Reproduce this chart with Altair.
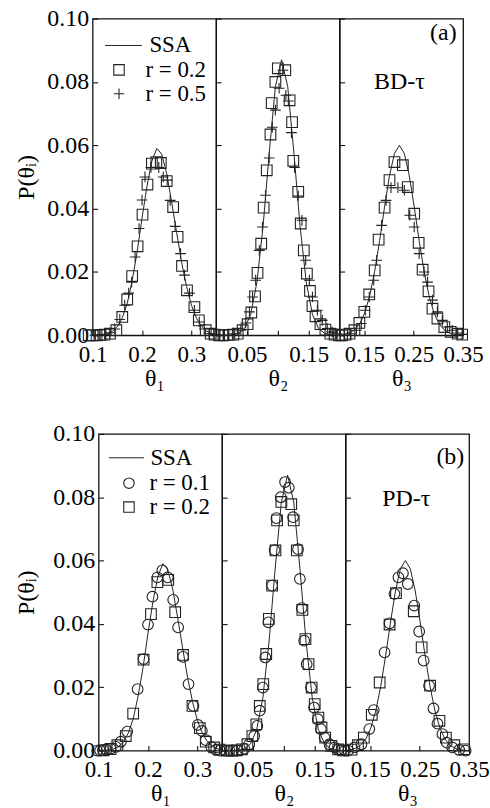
import json
import altair as alt
import pandas as pd

FONT = "Liberation Serif"
PLUS_PATH = "M-1,0L1,0M0,-1L0,1"

# ---------------- SSA curves (same in both figures) ----------------
SSA1_X = [0.10, 0.11, 0.12, 0.13, 0.14, 0.15, 0.16, 0.17, 0.18, 0.19, 0.20, 0.21, 0.22,
          0.23, 0.24, 0.25, 0.26, 0.27, 0.28, 0.29, 0.30, 0.31, 0.32, 0.33, 0.34, 0.35]
SSA1_Y = [0.0000, 0.0001, 0.0002, 0.0005, 0.0012, 0.0027, 0.0055, 0.0100, 0.0172, 0.0262,
          0.0370, 0.0470, 0.0550, 0.0590, 0.0572, 0.0510, 0.0420, 0.0325, 0.0232, 0.0155,
          0.0095, 0.0055, 0.0029, 0.0014, 0.0006, 0.0002]
SSA2_X = [0.000, 0.006, 0.016, 0.026, 0.036, 0.046, 0.056, 0.066, 0.076, 0.086, 0.096,
          0.106, 0.116, 0.126, 0.136, 0.146, 0.156, 0.166, 0.176, 0.186, 0.196, 0.200]
SSA2_Y = [0.0000, 0.0000, 0.0000, 0.0001, 0.0006, 0.0021, 0.0066, 0.0167, 0.0343, 0.0576,
          0.0785, 0.0870, 0.0785, 0.0576, 0.0343, 0.0167, 0.0066, 0.0021, 0.0006, 0.0001,
          0.0000, 0.0000]
SSA3_X = [0.100, 0.111, 0.121, 0.131, 0.141, 0.151, 0.161, 0.171, 0.181, 0.191, 0.201,
          0.211, 0.221, 0.231, 0.241, 0.251, 0.261, 0.271, 0.281, 0.291, 0.301, 0.311,
          0.321, 0.331, 0.341, 0.350]
SSA3_Y = [0.0000, 0.0003, 0.0008, 0.0018, 0.0037, 0.0071, 0.0125, 0.0202, 0.0299, 0.0406,
          0.0504, 0.0574, 0.0600, 0.0574, 0.0504, 0.0406, 0.0299, 0.0202, 0.0125, 0.0071,
          0.0037, 0.0018, 0.0008, 0.0003, 0.0001, 0.0000]

# ---------------- (a) BD-tau : squares r = 0.2, pluses r = 0.5 ----------------
SQ_A1_X = [0.092, 0.100, 0.108, 0.116, 0.124, 0.135, 0.148, 0.160, 0.170, 0.180, 0.191, 0.201,
           0.211, 0.220, 0.229, 0.238, 0.250, 0.263, 0.272, 0.281, 0.291, 0.306, 0.315, 0.329,
           0.339, 0.347]
SQ_A1_Y = [0.0000, 0.0000, 0.0000, 0.0001, 0.0002, 0.0005, 0.0016, 0.0058, 0.0113, 0.0187,
           0.0281, 0.0381, 0.0476, 0.0542, 0.0547, 0.0544, 0.0487, 0.0405, 0.0311, 0.0219,
           0.0142, 0.0089, 0.0047, 0.0016, 0.0005, 0.0002]
PL_A1_X = [0.105, 0.115, 0.125, 0.135, 0.145, 0.155, 0.165, 0.173, 0.179, 0.186, 0.194, 0.200,
           0.206, 0.218, 0.234, 0.243, 0.251, 0.257, 0.267, 0.278, 0.286, 0.296, 0.306, 0.316,
           0.326, 0.336, 0.346]
PL_A1_Y = [0.0000, 0.0000, 0.0003, 0.0008, 0.0020, 0.0050, 0.0095, 0.0133, 0.0168, 0.0247,
           0.0337, 0.0427, 0.0500, 0.0530, 0.0530, 0.0500, 0.0490, 0.0426, 0.0344, 0.0258,
           0.0190, 0.0133, 0.0079, 0.0042, 0.0020, 0.0005, 0.0002]
SQ_A2_X = [0.005, 0.012, 0.020, 0.028, 0.035, 0.043, 0.051, 0.057, 0.063, 0.067, 0.073, 0.077,
           0.082, 0.088, 0.090, 0.096, 0.100, 0.112, 0.119, 0.123, 0.125, 0.133, 0.137, 0.142,
           0.147, 0.152, 0.156, 0.161, 0.169, 0.177, 0.185, 0.192, 0.199]
SQ_A2_Y = [0.0000, 0.0000, 0.0001, 0.0002, 0.0005, 0.0016, 0.0035, 0.0072, 0.0123, 0.0197,
           0.0289, 0.0403, 0.0521, 0.0634, 0.0733, 0.0800, 0.0843, 0.0837, 0.0742, 0.0673,
           0.0551, 0.0453, 0.0353, 0.0268, 0.0195, 0.0140, 0.0092, 0.0060, 0.0035, 0.0018,
           0.0005, 0.0002, 0.0000]
PL_A2_X = [0.005, 0.012, 0.019, 0.030, 0.040, 0.048, 0.054, 0.059, 0.064, 0.070, 0.075, 0.080,
           0.086, 0.091, 0.096, 0.102, 0.108, 0.113, 0.117, 0.122, 0.127, 0.133, 0.139, 0.145,
           0.151, 0.156, 0.164, 0.172, 0.180, 0.188, 0.196]
PL_A2_Y = [0.0000, 0.0000, 0.0000, 0.0005, 0.0016, 0.0039, 0.0074, 0.0121, 0.0174, 0.0268,
           0.0342, 0.0442, 0.0560, 0.0657, 0.0711, 0.0780, 0.0837, 0.0758, 0.0740, 0.0640,
           0.0530, 0.0440, 0.0363, 0.0237, 0.0174, 0.0121, 0.0079, 0.0047, 0.0021, 0.0010,
           0.0005]
SQ_A3_X = [0.105, 0.112, 0.120, 0.130, 0.140, 0.150, 0.160, 0.171, 0.179, 0.191, 0.201, 0.211,
           0.228, 0.238, 0.251, 0.260, 0.268, 0.280, 0.288, 0.298, 0.312, 0.325, 0.339, 0.348]
SQ_A3_Y = [0.0000, 0.0002, 0.0005, 0.0016, 0.0039, 0.0074, 0.0129, 0.0205, 0.0302, 0.0403,
           0.0490, 0.0547, 0.0537, 0.0468, 0.0384, 0.0292, 0.0207, 0.0139, 0.0084, 0.0053,
           0.0026, 0.0011, 0.0005, 0.0002]
PL_A3_X = [0.110, 0.122, 0.134, 0.144, 0.152, 0.160, 0.169, 0.175, 0.185, 0.194, 0.204, 0.218,
           0.231, 0.242, 0.251, 0.261, 0.271, 0.278, 0.288, 0.298, 0.308, 0.318, 0.328, 0.339,
           0.348]
PL_A3_Y = [0.0000, 0.0005, 0.0016, 0.0037, 0.0079, 0.0121, 0.0174, 0.0237, 0.0347, 0.0426,
           0.0466, 0.0466, 0.0458, 0.0379, 0.0342, 0.0258, 0.0200, 0.0168, 0.0111, 0.0074,
           0.0047, 0.0026, 0.0016, 0.0007, 0.0003]

# ---------------- (b) PD-tau : circles r = 0.1, squares r = 0.2 ----------------
CI_B1_X = [0.097, 0.103, 0.109, 0.116, 0.124, 0.135, 0.145, 0.158, 0.179, 0.191, 0.200, 0.209,
           0.219, 0.229, 0.240, 0.251, 0.261, 0.271, 0.282, 0.292, 0.301, 0.309, 0.317, 0.328,
           0.338, 0.346]
CI_B1_Y = [0.0000, 0.0000, 0.0002, 0.0003, 0.0006, 0.0012, 0.0028, 0.0060, 0.0194, 0.0289,
           0.0398, 0.0486, 0.0547, 0.0569, 0.0547, 0.0476, 0.0389, 0.0296, 0.0210, 0.0141,
           0.0081, 0.0062, 0.0033, 0.0012, 0.0002, 0.0000]
SQ_B1_X = [0.110, 0.124, 0.138, 0.155, 0.170, 0.191, 0.206, 0.219, 0.241, 0.255, 0.271, 0.290,
           0.305, 0.317, 0.334, 0.345]
SQ_B1_Y = [0.0001, 0.0005, 0.0017, 0.0046, 0.0117, 0.0287, 0.0431, 0.0532, 0.0539, 0.0437,
           0.0302, 0.0141, 0.0071, 0.0028, 0.0010, 0.0003]
CI_B2_X = [0.005, 0.012, 0.018, 0.025, 0.036, 0.044, 0.052, 0.057, 0.061, 0.066, 0.070, 0.075,
           0.081, 0.085, 0.088, 0.095, 0.102, 0.108, 0.115, 0.123, 0.126, 0.129, 0.133, 0.137,
           0.144, 0.149, 0.155, 0.160, 0.166, 0.174, 0.182, 0.188, 0.193, 0.199]
CI_B2_Y = [0.0000, 0.0000, 0.0000, 0.0000, 0.0006, 0.0020, 0.0046, 0.0078, 0.0126, 0.0199,
           0.0294, 0.0405, 0.0521, 0.0633, 0.0734, 0.0800, 0.0848, 0.0830, 0.0737, 0.0636,
           0.0542, 0.0450, 0.0347, 0.0273, 0.0199, 0.0136, 0.0099, 0.0068, 0.0041, 0.0020,
           0.0010, 0.0004, 0.0001, 0.0000]
SQ_B2_X = [0.008, 0.016, 0.024, 0.032, 0.041, 0.049, 0.0555, 0.061, 0.0667, 0.0715, 0.0757,
           0.081, 0.0864, 0.089, 0.096, 0.112, 0.116, 0.121, 0.130, 0.135, 0.140, 0.145, 0.150,
           0.156, 0.161, 0.167, 0.177, 0.188, 0.196]
SQ_B2_Y = [0.0000, 0.0000, 0.0001, 0.0004, 0.0020, 0.0046, 0.0083, 0.0141, 0.0210, 0.0305,
           0.0416, 0.0521, 0.0632, 0.0727, 0.0785, 0.0778, 0.0727, 0.0632, 0.0444, 0.0352,
           0.0273, 0.0199, 0.0147, 0.0104, 0.0073, 0.0041, 0.0015, 0.0004, 0.0001]
CI_B3_X = [0.105, 0.118, 0.132, 0.148, 0.157, 0.179, 0.189, 0.199, 0.207, 0.216, 0.226, 0.239,
           0.249, 0.258, 0.269, 0.278, 0.286, 0.296, 0.305, 0.316, 0.330, 0.343]
CI_B3_Y = [0.0000, 0.0010, 0.0020, 0.0068, 0.0128, 0.0310, 0.0402, 0.0495, 0.0547, 0.0560,
           0.0526, 0.0458, 0.0376, 0.0284, 0.0205, 0.0133, 0.0085, 0.0052, 0.0025, 0.0010,
           0.0002, 0.0000]
SQ_B3_X = [0.112, 0.125, 0.137, 0.153, 0.169, 0.189, 0.202, 0.238, 0.254, 0.271, 0.290, 0.303,
           0.320, 0.340]
SQ_B3_Y = [0.0003, 0.0017, 0.0041, 0.0113, 0.0215, 0.0398, 0.0497, 0.0440, 0.0326, 0.0205,
           0.0094, 0.0041, 0.0017, 0.0004]

# ---------------- axes / labels ----------------
Y_TICKS = [0.0, 0.02, 0.04, 0.06, 0.08, 0.10]
X_DOMAINS = [[0.10, 0.35], [0.0, 0.20], [0.10, 0.35]]
X_TICKS = [[0.10, 0.15, 0.20, 0.25, 0.30, 0.35],
           [0.05, 0.10, 0.15],
           [0.15, 0.20, 0.25, 0.30, 0.35]]
X_LABELS = [[0.1, 0.2, 0.3], [0.05, 0.15], [0.15, 0.25, 0.35]]
X_FORMATS = [".1f", ".2f", ".2f"]
X_TITLES = ["θ₁", "θ₂", "θ₃"]
Y_TITLE = "P(θᵢ)"

LEG_A = ["r = 0.2", "r = 0.5"]
LEG_B = ["r = 0.1", "r = 0.2"]
TAG_A = ["(a)", "BD-τ"]
TAG_B = ["(b)", "PD-τ"]
TAG_A_X = [0.310, 0.221]
TAG_A_Y = [0.0955, 0.0800]
TAG_B_X = [0.312, 0.223]
TAG_B_Y = [0.0927, 0.0794]

W = 124
H = 318
TICK = {"expr": "-5"}
YLABEL_FS = 24
XLABEL_FS = 23
TEXT_FS = 24
LEGEND_FS = 23


def xaxis(k):
    lab = json.dumps(X_LABELS[k])
    expr = f"indexof({lab}, datum.value) >= 0 ? format(datum.value, '{X_FORMATS[k]}') : ''"
    return alt.Axis(values=X_TICKS[k], labelExpr=expr, title=X_TITLES[k], tickSize=TICK,
                    labelPadding=13, labelFlush=False, labelOverlap=False, labelBound=False,
                    labelFontSize=XLABEL_FS, domain=False, grid=False, titlePadding=0)


def yaxis(first, tpad):
    if first:
        return alt.Axis(values=Y_TICKS, format=".2f", title=Y_TITLE, tickSize=TICK,
                        labelPadding=9, titlePadding=tpad, domain=False, grid=False,
                        labelFontSize=YLABEL_FS, labelFlush=False, labelOverlap=False)
    return alt.Axis(values=Y_TICKS, labels=False, title=None, tickSize=TICK,
                    domain=False, grid=False)


def panel(k, ssa_x, ssa_y, m1, m2, names, shapes, tpad, leg, tags):
    xs = alt.Scale(domain=X_DOMAINS[k], nice=False, zero=False)
    ys = alt.Scale(domain=[0, 0.1], nice=False)
    first = k == 0
    ssa = pd.DataFrame({"x": ssa_x, "y": ssa_y, "s": "SSA"})
    pts = pd.concat([
        pd.DataFrame({"x": m1[0], "y": m1[1], "s": names[0]}),
        pd.DataFrame({"x": m2[0], "y": m2[1], "s": names[1]}),
    ])
    if first:
        cx, cy, clen, coff, sx, sy, soff, rpad = leg
        cleg = alt.Legend(title=None, orient="none", legendX=cx, legendY=cy,
                          symbolSize=clen * clen, symbolStrokeWidth=1, labelOffset=coff,
                          labelFont=FONT, labelFontSize=LEGEND_FS, symbolType="stroke")
        sleg = alt.Legend(title=None, orient="none", legendX=sx, legendY=sy,
                          symbolSize=110, symbolStrokeWidth=1.1, labelOffset=soff,
                          labelFont=FONT, labelFontSize=LEGEND_FS, rowPadding=rpad,
                          symbolFillColor="transparent", symbolStrokeColor="#222")
    else:
        cleg = None
        sleg = None
    line = alt.Chart(ssa).mark_line(strokeWidth=1).encode(
        x=alt.X("x:Q", scale=xs, axis=xaxis(k)),
        y=alt.Y("y:Q", scale=ys, axis=yaxis(first, tpad)),
        color=alt.Color("s:N", scale=alt.Scale(domain=["SSA"], range=["#222"]), legend=cleg),
    )
    points = alt.Chart(pts).mark_point(filled=False, color="#222", strokeWidth=1.1,
                                       opacity=1, size=115).encode(
        x="x:Q",
        y="y:Q",
        shape=alt.Shape("s:N", scale=alt.Scale(domain=names, range=shapes), legend=sleg),
    )
    layers = [line, points]
    if tags is not None:
        tdf = pd.DataFrame({"x": tags[1], "y": tags[2], "t": tags[0]})
        layers.append(alt.Chart(tdf).mark_text(font=FONT, fontSize=TEXT_FS, color="black",
                                               align="center", baseline="middle").encode(
            x="x:Q", y="y:Q", text="t:N"))
    return alt.layer(*layers).properties(width=W, height=H).resolve_scale(
        color="independent", shape="independent")


def spacer(width):
    return alt.Chart(pd.DataFrame({"x": [0.0], "y": [0.0]})).mark_point(opacity=0).encode(
        x=alt.X("x:Q", axis=None), y=alt.Y("y:Q", axis=None)
    ).properties(width=width, height=H, view=alt.ViewBackground(stroke="transparent"))


def row(sets, names, shapes, tpad, leg, tags, shift):
    ssas = [(SSA1_X, SSA1_Y), (SSA2_X, SSA2_Y), (SSA3_X, SSA3_Y)]
    panels = [spacer(shift)] if shift else []
    for k in range(3):
        panels.append(panel(k, ssas[k][0], ssas[k][1], sets[k][0], sets[k][1], names, shapes,
                            tpad, leg, tags if k == 2 else None))
    return alt.hconcat(*panels, spacing=0, bounds="flush").resolve_scale(
        x="independent", y="independent", color="independent", shape="independent")


row_a = row([((SQ_A1_X, SQ_A1_Y), (PL_A1_X, PL_A1_Y)),
             ((SQ_A2_X, SQ_A2_Y), (PL_A2_X, PL_A2_Y)),
             ((SQ_A3_X, SQ_A3_Y), (PL_A3_X, PL_A3_Y))],
            LEG_A, ["square", PLUS_PATH], 8, (12, 8, 37, 7, 15, 40, 15, -11),
            (TAG_A, TAG_A_X, TAG_A_Y), 0)
row_b = row([((CI_B1_X, CI_B1_Y), (SQ_B1_X, SQ_B1_Y)),
             ((CI_B2_X, CI_B2_Y), (SQ_B2_X, SQ_B2_Y)),
             ((CI_B3_X, CI_B3_Y), (SQ_B3_X, SQ_B3_Y))],
            LEG_B, ["circle", "square"], 14, (10, 6, 35, 6, 19, 38, 9, -13),
            (TAG_B, TAG_B_X, TAG_B_Y), 6)

chart = alt.concat(row_a, row_b, columns=1, spacing=30, align="none").resolve_scale(
    color="independent", shape="independent"
).properties(
    padding={"left": 14, "top": 4, "right": 0, "bottom": 5},
    background="white",
).configure_view(
    stroke="#111", strokeWidth=1.3
).configure_axis(
    labelFont=FONT, titleFont=FONT, titleFontSize=24,
    labelColor="black", titleColor="black", tickColor="#111", tickWidth=1.1,
    titleFontWeight="normal"
).configure_legend(
    labelFont=FONT, labelFontSize=LEGEND_FS, labelColor="black"
)

chart.save("out.html", embed_options={"renderer": "svg", "actions": False})
